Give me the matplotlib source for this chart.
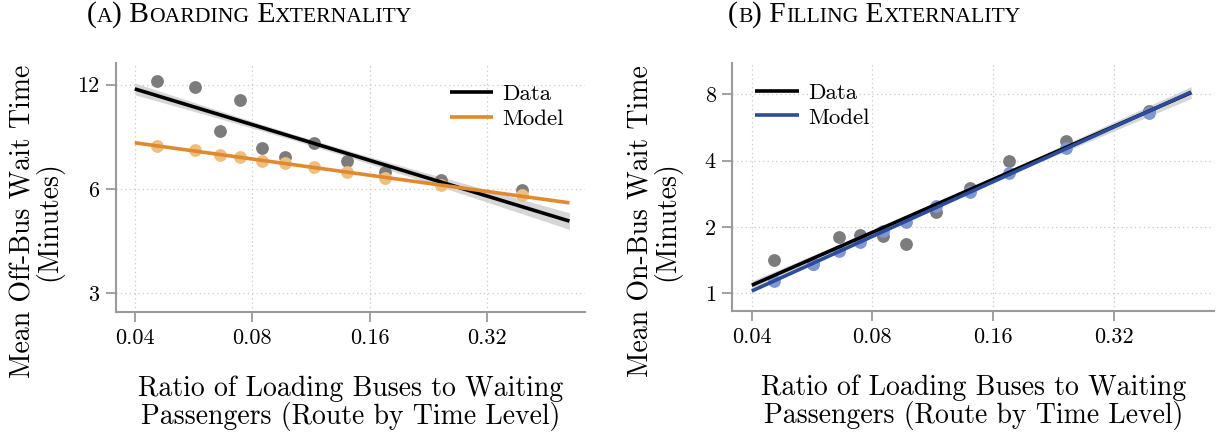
import numpy as np
import matplotlib
matplotlib.use("Agg")
import matplotlib.pyplot as plt

plt.rcParams['font.family'] = ['cmr10', 'DejaVu Serif']
plt.rcParams['axes.formatter.use_mathtext'] = True
plt.rcParams['mathtext.fontset'] = 'cm'

# binned ratio of loading buses to waiting passengers (shared by both panels)
ratio = [0.0455, 0.057, 0.066, 0.0745, 0.0848, 0.0968, 0.115, 0.140, 0.175, 0.244, 0.392]

# panel A: off-bus wait time (minutes)
offbus_data = [12.3, 11.8, 8.84, 10.8, 7.85, 7.43, 8.13, 7.21, 6.71, 6.36, 5.97]
offbus_model = [8.0, 7.76, 7.53, 7.40, 7.23, 7.11, 6.92, 6.71, 6.45, 6.14, 5.75]

# panel B: on-bus wait time (minutes)
onbus_data = [1.42, 1.35, 1.80, 1.84, 1.81, 1.67, 2.34, 3.0, 3.98, 4.93, 6.7]
onbus_model = [1.13, 1.35, 1.55, 1.70, 1.91, 2.10, 2.50, 2.87, 3.53, 4.55, 6.56]

fit_range_a = [0.04, 0.52]
fit_range_b = [0.04, 0.50]

xticks = [0.04, 0.08, 0.16, 0.32]
yticks_a = [3, 6, 12]
yticks_b = [1, 2, 4, 8]

ORANGE = '#df8a2e'
ORANGE_PT = '#efbf80'
BLUE = '#2c4c9c'
BLUE_PT = '#7f97d2'
GRAY_PT = '#7c7c7c'
AXCOL = '#9a9a9a'


def loglog_fit(x, y, xr, n=50):
    lx, ly = np.log(x), np.log(y)
    b, a = np.polyfit(lx, ly, 1)
    res = ly - (a + b * lx)
    s = np.sqrt(np.sum(res ** 2) / (len(x) - 2))
    xs = np.linspace(np.log(xr[0]), np.log(xr[1]), n)
    se = s * np.sqrt(1 / len(x) + (xs - lx.mean()) ** 2 / np.sum((lx - lx.mean()) ** 2))
    fit = a + b * xs
    return np.exp(xs), np.exp(fit), np.exp(fit - 0.6 * se), np.exp(fit + 0.6 * se)


def style_axes(ax, yticks, ylim):
    ax.set_xscale('log')
    ax.set_yscale('log')
    ax.set_xlim(0.0358, 0.57)
    ax.set_ylim(*ylim)
    ax.set_xticks(xticks)
    ax.set_xticklabels(['%.2f' % t for t in xticks])
    ax.set_yticks(yticks)
    ax.set_yticklabels([str(t) for t in yticks])
    ax.minorticks_off()
    ax.grid(True, color='#c8c8c8', linestyle=(0, (1, 2.5)), linewidth=0.9)
    ax.set_axisbelow(True)
    for sp in ['top', 'right']:
        ax.spines[sp].set_visible(False)
    for sp in ['left', 'bottom']:
        ax.spines[sp].set_color(AXCOL)
        ax.spines[sp].set_linewidth(1.5)
    ax.tick_params(length=7, width=1.3, color=AXCOL, labelsize=16, pad=5)


def panel(ax, y_data, y_model, col, col_pt, xr):
    xd, fd, lo, hi = loglog_fit(ratio, y_data, xr)
    xm, fm, _, _ = loglog_fit(ratio, y_model, xr)
    ax.fill_between(xd, lo, hi, color='#d6d6d6', lw=0, zorder=1)
    ax.scatter(ratio, y_data, s=85, color=GRAY_PT, lw=0, zorder=2)
    ax.scatter(ratio, y_model, s=85, color=col_pt, lw=0, zorder=3)
    ax.plot(xd, fd, color='black', lw=2.6, zorder=4, label='Data', solid_capstyle='butt')
    ax.plot(xm, fm, color=col, lw=2.6, zorder=5, label='Model', solid_capstyle='butt')


def smallcaps_title(fig, x, y, parts, big=21.3, small=15.6):
    r = fig.canvas.get_renderer()
    px = x
    for txt, is_small in parts:
        t = fig.text(px / fig.bbox.width, 1 - y / fig.bbox.height, txt,
                     fontsize=small if is_small else big, family='Liberation Serif',
                     ha='left', va='baseline')
        px += t.get_window_extent(r).width


fig = plt.figure(figsize=(12.25, 4.4), dpi=100)
W, H = 1225, 440
ax1 = fig.add_axes([116 / W, 1 - 312 / H, 469 / W, 249 / H])
ax2 = fig.add_axes([732.5 / W, 1 - 311 / H, 481.5 / W, 248 / H])

panel(ax1, offbus_data, offbus_model, ORANGE, ORANGE_PT, fit_range_a)
style_axes(ax1, yticks_a, (2.65, 13.85))
panel(ax2, onbus_data, onbus_model, BLUE, BLUE_PT, fit_range_b)
style_axes(ax2, yticks_b, (0.83, 11.1))

for ax in (ax1, ax2):
    ax.set_xlabel('Ratio of Loading Buses to Waiting\nPassengers (Route by Time Level)',
                  fontsize=20, linespacing=1.0, labelpad=20)

fig.text(37 / W, 1 - 221 / H, 'Mean Off-Bus Wait Time\n(Minutes)', rotation=90,
         ha='center', va='center', fontsize=20, linespacing=0.9)
fig.text(655 / W, 1 - 221 / H, 'Mean On-Bus Wait Time\n(Minutes)', rotation=90,
         ha='center', va='center', fontsize=20, linespacing=0.9)

leg_kw = dict(frameon=False, fontsize=16.5, handlelength=1.9, handletextpad=0.4,
              labelspacing=0.2, borderpad=0, borderaxespad=0, loc='upper left')
ax1.legend(bbox_to_anchor=(0.712, 0.915), **leg_kw)
ax2.legend(bbox_to_anchor=(0.047, 0.92), **leg_kw)

smallcaps_title(fig, 87, 22, [('(', 0), ('A', 1), (') B', 0), ('OARDING', 1),
                              (' E', 0), ('XTERNALITY', 1)])
smallcaps_title(fig, 728, 22, [('(', 0), ('B', 1), (') F', 0), ('ILLING', 1),
                               (' E', 0), ('XTERNALITY', 1)])

fig.savefig('out.png', dpi=100)
